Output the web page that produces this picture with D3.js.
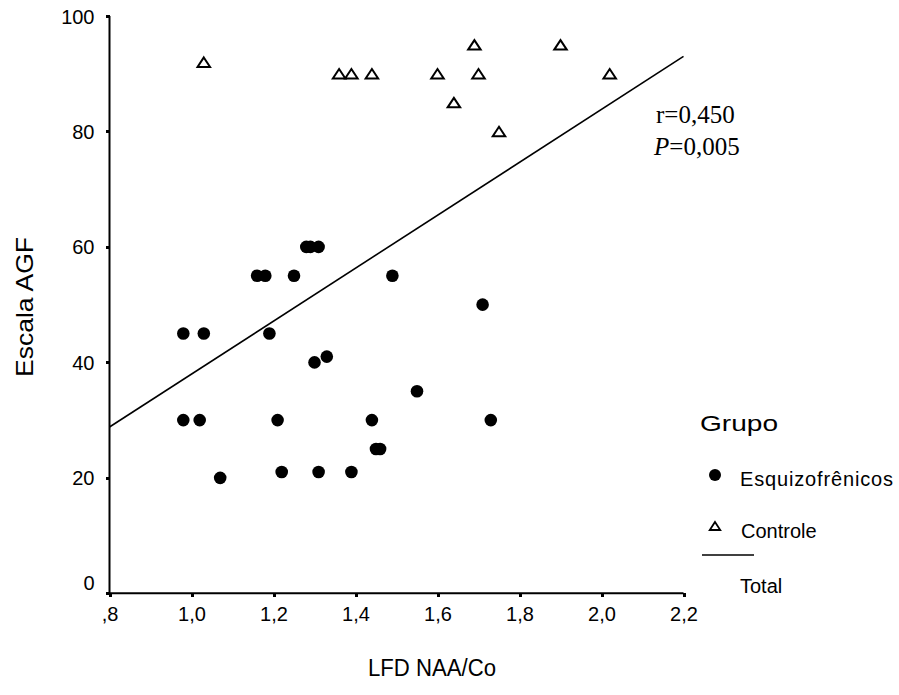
<!DOCTYPE html>
<html>
<head>
<meta charset="utf-8">
<script src="https://cdn.jsdelivr.net/npm/d3@7"></script>
<style>
  html, body { margin: 0; padding: 0; background: #fff; }
  svg { display: block; }
</style>
</head>
<body>
<svg id="chart" width="899" height="695" font-family="Liberation Sans, Arial, Helvetica, sans-serif"></svg>
<script>
// ---------- data ----------
const schizoX = [0.98, 1.03, 1.19, 1.16, 1.18, 1.25, 1.28, 1.29, 1.31, 1.49, 1.71, 1.30, 1.33, 1.55,
                 0.98, 1.02, 1.21, 1.44, 1.73, 1.07, 1.22, 1.31, 1.39, 1.45, 1.46];
const schizoY = [45, 45, 45, 55, 55, 55, 60, 60, 60, 55, 50, 40, 41, 35,
                 30, 30, 30, 30, 30, 20, 21, 21, 21, 25, 25];
const controlX = [1.03, 1.36, 1.39, 1.44, 1.60, 1.64, 1.69, 1.70, 1.75, 1.90, 2.02];
const controlY = [92, 90, 90, 90, 90, 85, 95, 90, 80, 95, 90];
const fitX = [0.8, 2.2];
const fitY = [28.8, 93.0];
const xTicks = [0.8, 1.0, 1.2, 1.4, 1.6, 1.8, 2.0, 2.2];
const xTickLabels = [",8", "1,0", "1,2", "1,4", "1,6", "1,8", "2,0", "2,2"];
const yTicks = [0, 20, 40, 60, 80, 100];
const yTickLabels = ["0", "20", "40", "60", "80", "100"];
const legendLabels = ["Esquizofrênicos", "Controle", "Total"];

// ---------- setup ----------
const SANS = "Liberation Sans, Arial, Helvetica, sans-serif";
const SERIF = "Liberation Serif, 'Times New Roman', Times, serif";
const svg = d3.select("#chart");
const x = d3.scaleLinear().domain([0.8, 2.2]).range([109.5, 683.5]);
const y = d3.scaleLinear().domain([0, 100]).range([593.3, 16]);

// axes
const xAxis = d3.axisBottom(x).tickValues(xTicks).tickSize(4)
  .tickFormat((d, i) => xTickLabels[i]);
const yAxis = d3.axisLeft(y).tickValues(yTicks).tickSize(4)
  .tickFormat((d, i) => yTickLabels[i]);

const gx = svg.append("g").attr("transform", `translate(0,${y(0)})`).call(xAxis);
const gy = svg.append("g").attr("transform", `translate(${x(0.8)},0)`).call(yAxis);

[gx, gy].forEach(g => {
  g.attr("font-family", SANS);
  g.select(".domain").attr("stroke", "#000").attr("stroke-width", 2);
  g.selectAll(".tick line").attr("stroke", "#000").attr("stroke-width", 3)
    .attr("shape-rendering", "crispEdges");
  g.selectAll(".tick text").attr("font-size", 20).attr("fill", "#000");
});
gx.selectAll(".domain").attr("d", `M${x(0.8)},0H${x(2.2)}`);
gy.selectAll(".domain").attr("d", `M0,${y(0)}V${y(100)}`);
gx.selectAll(".tick text").attr("y", 0).attr("dy", 0).attr("transform", "translate(0,28)");
gy.selectAll(".tick text").attr("x", -15).attr("dy", "0.35em");
gy.selectAll(".tick text").filter(d => d === 0).attr("transform", "translate(0,-11)");

// axis titles
svg.append("text").attr("x", 432).attr("y", 676)
  .attr("text-anchor", "middle").attr("font-size", 23).attr("font-family", SANS)
  .attr("textLength", 128).attr("lengthAdjust", "spacingAndGlyphs")
  .text("LFD NAA/Co");
svg.append("text").attr("transform", "translate(33,307) rotate(-90)")
  .attr("text-anchor", "middle").attr("font-size", 24).attr("font-family", SANS)
  .attr("textLength", 140).attr("lengthAdjust", "spacingAndGlyphs")
  .text("Escala AGF");

// regression line
const line = d3.line().x(d => x(d[0])).y(d => y(d[1]));
svg.append("path").datum(d3.zip(fitX, fitY)).attr("d", line)
  .attr("fill", "none").attr("stroke", "#000").attr("stroke-width", 1.6);

// schizophrenic points
svg.append("g").selectAll("circle").data(d3.zip(schizoX, schizoY)).join("circle")
  .attr("cx", d => x(d[0])).attr("cy", d => y(d[1])).attr("r", 6.3).attr("fill", "#000");

// control triangles
const tri = (w, h) => `M0,${-h / 2}L${w / 2},${h / 2}L${-w / 2},${h / 2}Z`;
svg.append("g").selectAll("path").data(d3.zip(controlX, controlY)).join("path")
  .attr("transform", d => `translate(${x(d[0])},${y(d[1])})`)
  .attr("d", tri(12.5, 9.5)).attr("fill", "#fff").attr("stroke", "#000")
  .attr("stroke-width", 2).attr("stroke-linejoin", "miter");

// annotation
ann = svg.append("g");
ann.append("text").attr("x", 656).attr("y", 123).attr("font-size", 25)
  .style("font-family", SERIF).text("r=0,450");
const pt = ann.append("text").attr("x", 654).attr("y", 155).attr("font-size", 25)
  .style("font-family", SERIF);
pt.append("tspan").attr("font-style", "italic").text("P");
pt.append("tspan").text("=0,005");

// legend
const lg = svg.append("g").attr("font-family", SANS);
lg.append("text").attr("x", 700).attr("y", 431).attr("font-size", 22)
  .attr("textLength", 78).attr("lengthAdjust", "spacingAndGlyphs").text("Grupo");
lg.append("circle").attr("cx", 715).attr("cy", 475).attr("r", 6).attr("fill", "#000");
lg.append("text").attr("x", 740).attr("y", 486).attr("font-size", 20)
  .attr("textLength", 153).attr("lengthAdjust", "spacing").text(legendLabels[0]);
lg.append("path").attr("transform", "translate(715,526)").attr("d", tri(10.5, 8))
  .attr("fill", "#fff").attr("stroke", "#000").attr("stroke-width", 1.8);
lg.append("text").attr("x", 741).attr("y", 538).attr("font-size", 20).text(legendLabels[1]);
lg.append("line").attr("x1", 702).attr("x2", 754).attr("y1", 555).attr("y2", 555)
  .attr("stroke", "#000").attr("stroke-width", 1.6);
lg.append("text").attr("x", 740).attr("y", 593).attr("font-size", 20).text(legendLabels[2]);
</script>
</body>
</html>
